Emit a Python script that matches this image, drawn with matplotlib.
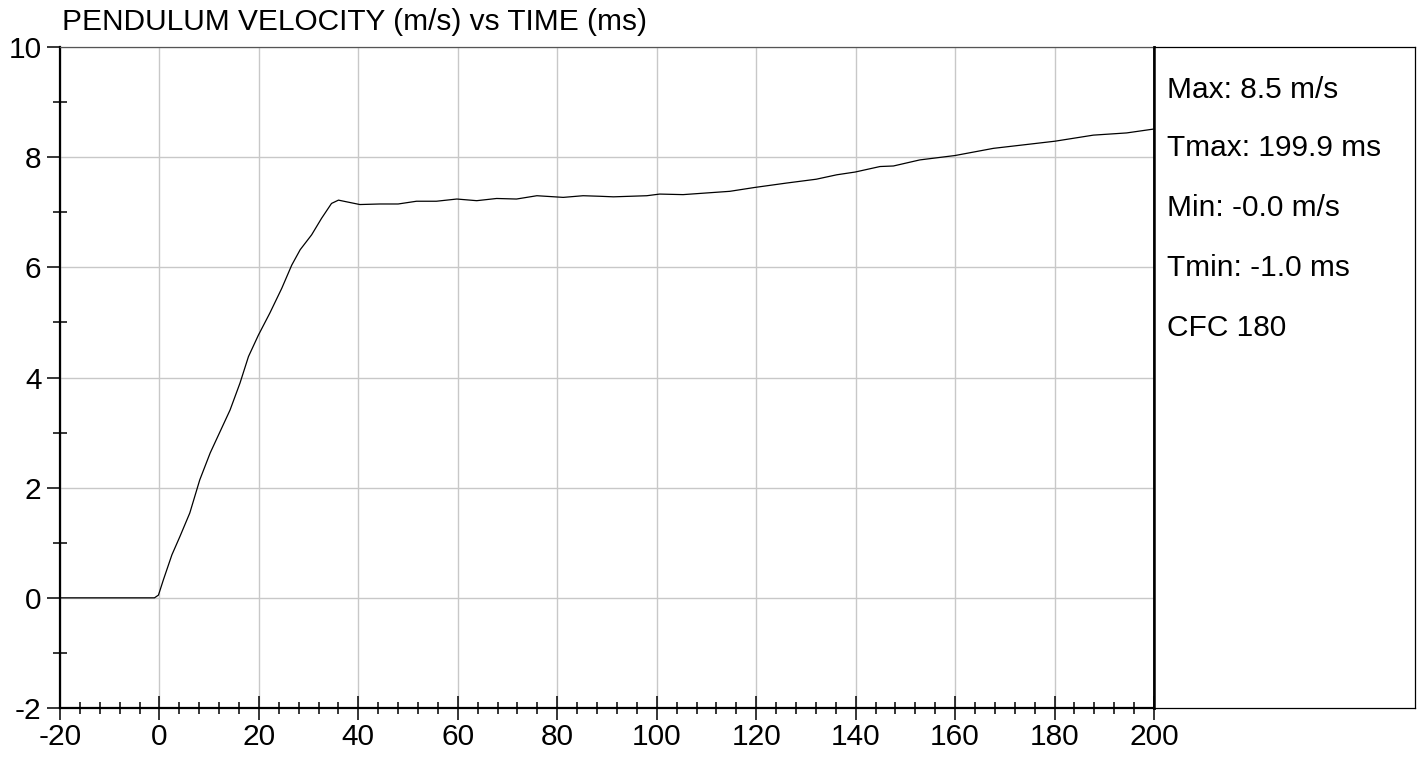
import numpy as np
import matplotlib
matplotlib.use("Agg")
import matplotlib.pyplot as plt
from matplotlib.ticker import MultipleLocator

plt.rcParams['font.family'] = ['Liberation Sans', 'DejaVu Sans']
plt.rcParams['axes.unicode_minus'] = False

# =========================
# Data
# =========================
time_ms = [-20, -5, -1.0, -0.2, 0.8, 2.5, 4.1, 6.1, 8.1, 10.2, 12.2, 14.2, 16.2,
           17.9, 19.9, 22.2, 24.6, 26.6, 28.3, 30.6, 32.6, 34.6, 36.0, 37.6,
           40.3, 44.3, 48.0, 51.7, 55.7, 59.8, 63.8, 67.8, 71.8, 75.9, 81.2,
           85.2, 88.6, 91.3, 98.0, 100.6, 105.3, 114.7, 119.7, 126.1, 132.1,
           136.2, 139.9, 144.9, 147.6, 152.9, 160.0, 167.7, 174.4, 180.1,
           187.8, 194.5, 199.9]
velocity = [0.0, 0.0, 0.0, 0.05, 0.33, 0.78, 1.11, 1.54, 2.14, 2.63, 3.02, 3.41,
            3.90, 4.38, 4.77, 5.17, 5.62, 6.04, 6.32, 6.59, 6.89, 7.16, 7.22,
            7.19, 7.14, 7.15, 7.15, 7.20, 7.20, 7.24, 7.21, 7.25, 7.24, 7.30,
            7.27, 7.30, 7.29, 7.28, 7.30, 7.33, 7.32, 7.38, 7.45, 7.53, 7.60,
            7.68, 7.73, 7.83, 7.84, 7.95, 8.03, 8.16, 8.23, 8.29, 8.40, 8.44,
            8.51]

TITLE = "PENDULUM VELOCITY (m/s) vs TIME (ms)"
STATS = ["Max: 8.5 m/s", "Tmax: 199.9 ms", "Min: -0.0 m/s", "Tmin: -1.0 ms", "CFC 180"]

FS = 21.5

W, H = 1420, 759
fig = plt.figure(figsize=(W / 100, H / 100), dpi=100)

# main plot area in pixels
left, right, top, bottom = 60, 1154, 47, 708
ax = fig.add_axes([left / W, 1 - bottom / H, (right - left) / W, (bottom - top) / H])

ax.plot(time_ms, velocity, color="black", linewidth=0.9)
ax.set_xlim(-20, 200)
ax.set_ylim(-2, 10)

ax.xaxis.set_major_locator(MultipleLocator(20))
ax.xaxis.set_minor_locator(MultipleLocator(4))
ax.yaxis.set_major_locator(MultipleLocator(2))
ax.yaxis.set_minor_locator(MultipleLocator(1))

ax.grid(True, which="major", color="#c8c8c8", linewidth=1.0)
ax.set_axisbelow(True)

ax.tick_params(axis="x", which="major", direction="inout", length=17, width=1.1,
               labelsize=FS, pad=2)
ax.tick_params(axis="x", which="minor", direction="inout", length=8.6, width=1.1)
ax.tick_params(axis="y", which="major", direction="out", length=9.4, width=1.1,
               labelsize=FS, pad=4)
ax.tick_params(axis="y", which="minor", direction="inout", length=9.4, width=1.1)

ax.spines["left"].set_linewidth(1.6)
ax.spines["bottom"].set_linewidth(1.6)
ax.spines["right"].set_linewidth(1.8)
ax.spines["top"].set_linewidth(0.9)
ax.spines["top"].set_color("#555555")

# statistics panel on the right
pleft, pright = 1154, 1415
pax = fig.add_axes([pleft / W, 1 - bottom / H, (pright - pleft) / W, (bottom - top) / H])
pax.set_xticks([])
pax.set_yticks([])
for s in pax.spines.values():
    s.set_linewidth(0.9)
    s.set_color("black")
pax.spines["left"].set_linewidth(1.8)

ys = [90, 148, 208, 268, 328]
for txt, y in zip(STATS, ys):
    fig.text(1167 / W, 1 - y / H, txt, fontsize=FS, ha="left", va="center")

fig.text(62 / W, 1 - 30 / H, TITLE, fontsize=FS, ha="left", va="baseline")

fig.savefig("out.png", dpi=100)
